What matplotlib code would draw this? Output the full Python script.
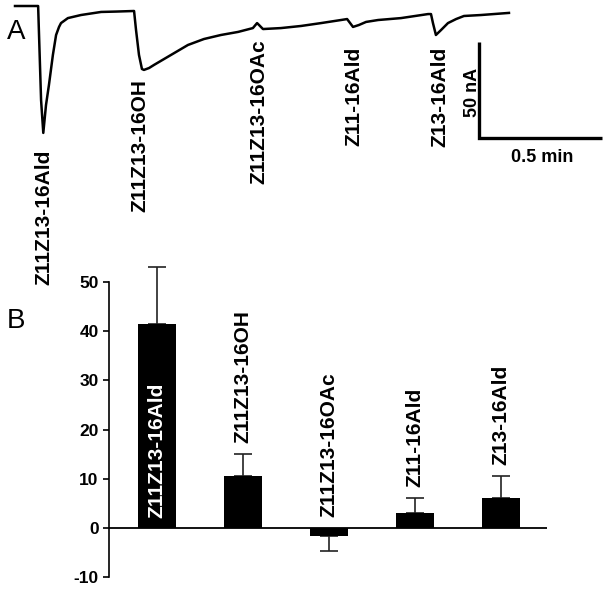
import matplotlib
matplotlib.use("Agg")
import matplotlib.pyplot as plt
import numpy as np

plt.rcParams['font.family'] = ['Liberation Sans', 'DejaVu Sans']

# ---------------- Data ----------------
# Panel A: EAG trace (time in min, current in nA)
trace_t = [0.000, 0.094, 0.106, 0.115, 0.126, 0.138, 0.146, 0.154, 0.167, 0.179,
           0.187, 0.215, 0.268, 0.350, 0.411, 0.484, 0.492, 0.504, 0.516, 0.524,
           0.545, 0.565, 0.634, 0.703, 0.768, 0.837, 0.907, 0.967, 0.984, 0.992,
           1.008, 1.081, 1.163, 1.244, 1.325, 1.350, 1.374, 1.398, 1.427, 1.476,
           1.569, 1.679, 1.691, 1.699, 1.711, 1.732, 1.760, 1.793, 1.825, 1.894,
           2.008]
trace_i = [0.0, 0.0, -49.0, -66.1, -51.6, -41.1, -33.3, -25.5, -15.1, -10.9,
           -8.9, -6.3, -4.7, -3.1, -2.9, -2.6, -12.5, -25.5, -32.8, -33.3,
           -32.3, -30.7, -25.5, -20.3, -17.2, -15.1, -13.5, -11.5, -8.9, -9.9,
           -12.0, -11.5, -10.4, -8.9, -7.3, -6.8, -10.9, -9.9, -8.3, -7.3,
           -6.3, -4.2, -4.2, -8.9, -15.1, -12.5, -8.9, -6.8, -5.2, -4.7,
           -3.6]
scale_t = 0.5   # min
scale_i = 50    # nA

# Panel B: responses
compounds = ['Z11Z13-16Ald', 'Z11Z13-16OH', 'Z11Z13-16OAc', 'Z11-16Ald', 'Z13-16Ald']
means = [41.5, 10.5, -1.7, 3.0, 6.0]
errs = [11.6, 4.5, 3.1, 3.0, 4.5]
yticks = [-10, 0, 10, 20, 30, 40, 50]

# ---------------- Figure ----------------
W, H = 609, 590
fig = plt.figure(figsize=(W / 100, H / 100), dpi=100)

def fx(x):
    return x / W

def fy(y):
    return 1 - y / H

# Panel A axes covering whole figure, pixel-mapped to min / nA
ax_a = fig.add_axes([0, 0, 1, 1])
ax_a.set_axis_off()
px_per_min = 246.0
px_per_na = 1.92
x0, y0 = 15.0, 6.0
ax_a.set_xlim((0 - x0) / px_per_min, (W - x0) / px_per_min)
ax_a.set_ylim(-(H - y0) / px_per_na, y0 / px_per_na)
ax_a.plot(trace_t, trace_i, color='black', lw=1.8, solid_joinstyle='round')

# scale bar
sb_t, sb_i = (479 - x0) / px_per_min, -(42 - y0) / px_per_na
ax_a.plot([sb_t, sb_t, sb_t + scale_t], [sb_i, sb_i - scale_i, sb_i - scale_i],
          color='black', lw=2.4, solid_joinstyle='miter', solid_capstyle='butt')
fig.text(fx(472), fy(92), f'{scale_i} nA', rotation=90, ha='center', va='center',
         fontsize=13, fontweight='bold')
fig.text(fx(542), fy(158), f'{scale_t} min', ha='center', va='center',
         fontsize=13, fontweight='bold')

# compound labels under the trace
lab_pos = [(43.5, 150), (140, 79), (259, 39), (354, 47), (440, 47)]
for name, (lx, ly) in zip(compounds, lab_pos):
    fig.text(fx(lx), fy(ly), name, rotation=90, ha='center', va='top',
             fontsize=15, fontweight='bold')

fig.text(fx(16.5), fy(32), 'A', ha='center', va='center', fontsize=20)
fig.text(fx(16), fy(321), 'B', ha='center', va='center', fontsize=20)

# Panel B axes
ax_b = fig.add_axes([fx(109), fy(577), (547 - 109) / W, (577 - 282) / H])
ax_b.patch.set_alpha(0)
xpos = np.arange(len(compounds))
ax_b.bar(xpos, means, width=0.44, color='black', zorder=3)
for i, (m, e) in enumerate(zip(means, errs)):
    if m >= 0:
        yerr = [[0], [e]]
    else:
        yerr = [[e], [0]]
    ax_b.errorbar([i], [m], yerr=yerr, fmt='none', ecolor='#222222', elinewidth=1.2,
                  capsize=6.8, capthick=1.2, zorder=2, clip_on=False)
ax_b.axhline(0, color='black', lw=1.3, zorder=4)
ax_b.set_ylim(-10, 50)
ax_b.set_xlim(-0.558, 4.535)
ax_b.set_yticks(yticks)
ax_b.set_yticklabels([str(t) for t in yticks], fontsize=12.5, fontweight='bold')
ax_b.set_xticks([])
for s in ['top', 'right', 'bottom']:
    ax_b.spines[s].set_visible(False)
ax_b.spines['left'].set_linewidth(1.2)
ax_b.tick_params(axis='y', length=4.5, width=1.2, pad=3)

for i, (name, m, e) in enumerate(zip(compounds, means, errs)):
    if i == 0:
        ax_b.annotate(name, xy=(i, 0), xytext=(0, 7), textcoords='offset points',
                      rotation=90, ha='center', va='bottom', fontsize=15,
                      fontweight='bold', color='white', zorder=5)
    else:
        top = m + e if m >= 0 else 0
        ax_b.annotate(name, xy=(i, top), xytext=(0, 8), textcoords='offset points',
                      rotation=90, ha='center', va='bottom', fontsize=15,
                      fontweight='bold', color='black', zorder=5)

fig.savefig('out.png', dpi=100)
